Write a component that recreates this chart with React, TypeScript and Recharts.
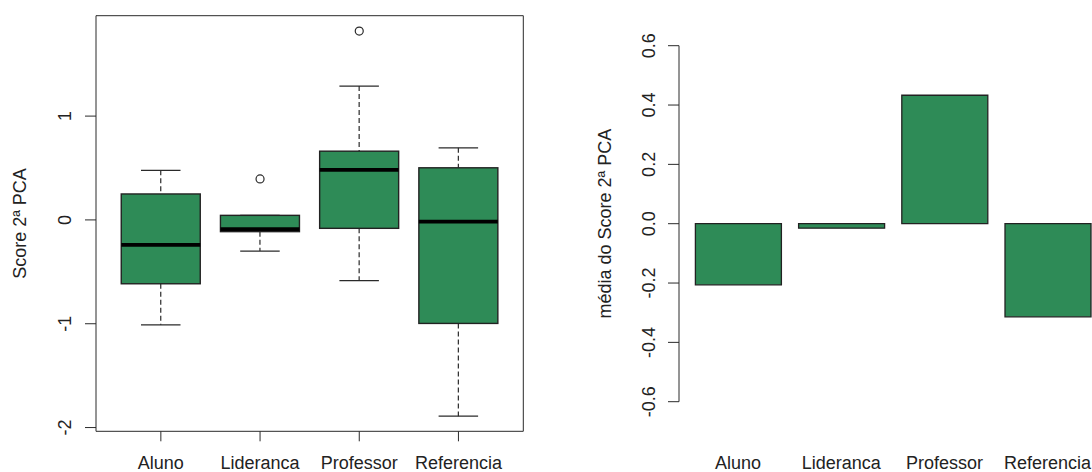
import React from "react"
import {
  Bar,
  BarChart,
  ComposedChart,
  Scatter,
  XAxis,
  YAxis,
} from "recharts"

const categories = ["Aluno", "Lideranca", "Professor", "Referencia"]

// boxplot (Score 2ª PCA)
const whiskerLow = [-1.01, -0.3, -0.585, -1.89]
const q1 = [-0.615, -0.113, -0.081, -0.997]
const median = [-0.241, -0.089, 0.482, -0.016]
const q3 = [0.25, 0.044, 0.662, 0.502]
const whiskerHigh = [0.478, 0.044, 1.289, 0.694]
const outliers: (number | null)[] = [null, 0.395, 1.819, null]

// barplot (média do Score 2ª PCA)
const means = [-0.206, -0.015, 0.433, -0.314]

const boxTicks = [-2, -1, 0, 1]
const meanTicks = [-0.6, -0.4, -0.2, 0, 0.2, 0.4, 0.6]

const FONT = '"Liberation Sans", Arial, sans-serif'
const GREEN = "#2E8B57"
const INK = "#222"
const LINE = "#2a2a2a"

const boxDomain = [-2.036, 1.967]

const boxData = categories.map((name, i) => ({
  name,
  whiskerLow: whiskerLow[i],
  q1: q1[i],
  median: median[i],
  q3: q3[i],
  whiskerHigh: whiskerHigh[i],
  outlier: outliers[i],
}))

const meanData = categories.map((name, i) => ({ name, mean: means[i] }))

function RotatedTick(props: any) {
  const { x, y, payload, fmt } = props
  const label = fmt ? fmt(payload.value) : String(payload.value)
  return (
    <text
      x={x}
      y={y}
      transform={`rotate(-90, ${x}, ${y})`}
      textAnchor="middle"
      dominantBaseline="central"
      fill={INK}
      fontSize={18}
      fontFamily={FONT}
    >
      {label}
    </text>
  )
}

function BoxShape(props: any) {
  const { x, y, width, height, payload } = props
  if (!payload) return <g />
  const lo = payload.whiskerLow
  const hi = payload.whiskerHigh
  const top = Math.min(y, y + height)
  const h = Math.abs(height)
  // map a value onto the pixel span the bar scale gave for [lo, hi]
  const py = (v: number) => (hi === lo ? top : top + ((hi - v) / (hi - lo)) * h)
  const cx = x + width / 2
  const cap = width / 4
  const yHi = py(hi)
  const yLo = py(lo)
  const yQ3 = py(payload.q3)
  const yQ1 = py(payload.q1)
  const yMed = py(payload.median)
  return (
    <g>
      {yQ3 - yHi > 1 && (
        <line x1={cx} x2={cx} y1={yHi} y2={yQ3} stroke={LINE} strokeWidth={1.2} strokeDasharray="5 3" />
      )}
      <line x1={cx} x2={cx} y1={yQ1} y2={yLo} stroke={LINE} strokeWidth={1.2} strokeDasharray="5 3" />
      <line x1={cx - cap} x2={cx + cap} y1={yHi} y2={yHi} stroke={LINE} strokeWidth={1.3} />
      <line x1={cx - cap} x2={cx + cap} y1={yLo} y2={yLo} stroke={LINE} strokeWidth={1.3} />
      <rect x={x} y={yQ3} width={width} height={yQ1 - yQ3} fill={GREEN} stroke={INK} strokeWidth={1.4} />
      <line x1={x} x2={x + width} y1={yMed} y2={yMed} stroke="#000" strokeWidth={3.8} />
    </g>
  )
}

function OutlierShape(props: any) {
  const { cx, cy, payload } = props
  if (!payload || payload.outlier == null || !Number.isFinite(cy)) return <g />
  return <circle cx={cx} cy={cy} r={4} fill="none" stroke={LINE} strokeWidth={1.2} />
}

const xTick = { fill: INK, fontSize: 18, fontFamily: FONT }

export default function App() {
  return (
    <div
      style={{
        position: "absolute",
        left: 0,
        top: 0,
        width: 1092,
        height: 472,
        overflow: "hidden",
        background: "#fff",
        fontFamily: FONT,
      }}
    >
      <div style={{ position: "absolute", left: 0, top: 0 }}>
        <ComposedChart
          width={540}
          height={472}
          data={boxData}
          margin={{ top: 14.7, right: 15.7, bottom: 0.7, left: 0 }}
        >
          <XAxis
            dataKey="name"
            interval={0}
            padding={{ left: 15.25, right: 15.25 }}
            height={40}
            tickSize={10}
            tickMargin={15}
            stroke={LINE}
            tick={xTick}
          />
          {/* top / right axes close the box frame around the plot */}
          <XAxis
            xAxisId="top"
            orientation="top"
            dataKey="name"
            padding={{ left: 15.25, right: 15.25 }}
            height={1}
            tick={false}
            tickLine={false}
            stroke={LINE}
          />
          <YAxis
            type="number"
            domain={boxDomain}
            ticks={boxTicks}
            width={96}
            tickSize={11}
            tickMargin={20}
            stroke={LINE}
            tick={<RotatedTick />}
            label={{
              value: "Score 2ª PCA",
              angle: -90,
              position: "insideLeft",
              offset: 20,
              style: { textAnchor: "middle", fill: INK, fontSize: 18, fontFamily: FONT },
            }}
          />
          <YAxis
            yAxisId="right"
            orientation="right"
            type="number"
            domain={boxDomain}
            width={1}
            tick={false}
            tickLine={false}
            stroke={LINE}
          />
          <Bar
            dataKey={(d: any) => [d.whiskerLow, d.whiskerHigh]}
            barSize={79}
            shape={<BoxShape />}
            isAnimationActive={false}
          />
          <Scatter
            dataKey="outlier"
            xAxisId="top"
            yAxisId="right"
            shape={<OutlierShape />}
            isAnimationActive={false}
          />
        </ComposedChart>
      </div>

      <div style={{ position: "absolute", left: 580, top: 0 }}>
        <BarChart
          width={530}
          height={472}
          data={meanData}
          margin={{ top: 45.7, right: 3.4, bottom: 0.3, left: 0 }}
        >
          <XAxis
            dataKey="name"
            interval={0}
            axisLine={false}
            tickLine={false}
            padding={{ left: 7.4, right: 7.4 }}
            height={70}
            tickSize={0}
            tickMargin={55}
            tick={xTick}
          />
          <YAxis
            type="number"
            domain={[-0.6, 0.6]}
            ticks={meanTicks}
            width={99}
            tickSize={11}
            tickMargin={19}
            stroke={LINE}
            tick={<RotatedTick fmt={(v: number) => v.toFixed(1)} />}
            label={{
              value: "média do Score 2ª PCA",
              angle: -90,
              position: "insideLeft",
              offset: 25,
              style: { textAnchor: "middle", fill: INK, fontSize: 18, fontFamily: FONT },
            }}
          />
          <Bar dataKey="mean" barSize={86} fill={GREEN} stroke={INK} strokeWidth={1.3} isAnimationActive={false} />
        </BarChart>
      </div>
    </div>
  )
}
